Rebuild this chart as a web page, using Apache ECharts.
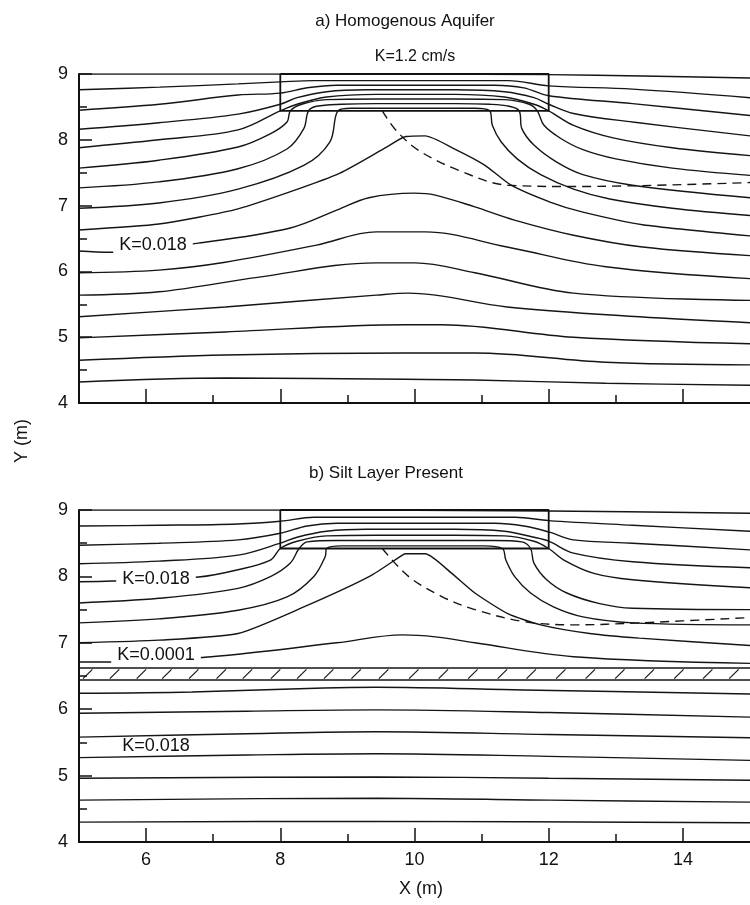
<!DOCTYPE html>
<html>
<head>
<meta charset="utf-8">
<script src="https://cdn.jsdelivr.net/npm/echarts@6/dist/echarts.min.js"></script>
<style>
  html, body { margin: 0; padding: 0; background: #fff; }
  #chart { width: 750px; height: 905px; }
</style>
</head>
<body>
<div id="chart"></div>
<script>
// ---- axis ticks ----
const xMajorTicks = [6, 8, 10, 12, 14];
const xMinorTicks = [7, 9, 11, 13];

// ---- trench (high-K box) outline, x / y in metres ----
const boxX = [8, 12, 12, 8, 8];
const boxTopY = [9, 9, 8.44, 8.44, 9];
const boxBotY = [9, 9, 8.42, 8.42, 9];

// ---- a) homogeneous aquifer: streamlines, [x, y] in metres ----
const homUpper = [
  [[5,9.0],[8,9.0],[12,8.99],[13.4,8.97],[15,8.94]],
  [[5,8.76],[6.2,8.80],[7.37,8.85],[8,8.88],[8.5,8.90],[11.4,8.90],[12,8.82],[13.25,8.77],[15,8.64]],
  [[5,8.45],[6.2,8.54],[7.37,8.68],[8,8.71],[8.4,8.79],[8.84,8.83],[11.19,8.83],[11.63,8.79],[12,8.67],[13.25,8.55],[15,8.37]],
  [[5,8.16],[6.19,8.26],[7.37,8.39],[8,8.54],[8.25,8.64],[8.69,8.73],[9.28,8.76],[10.6,8.76],[11.34,8.73],[11.78,8.64],[12,8.54],[12.37,8.40],[13.25,8.27],[15,8.06]],
  [[5,7.88],[6.19,8.0],[7.37,8.15],[8,8.44],[8.25,8.54],[8.69,8.65],[9.43,8.69],[10.6,8.69],[11.34,8.65],[11.78,8.54],[12,8.44],[12.37,8.22],[12.96,8.03],[13.84,7.88],[15,7.76]],
  [[5,7.57],[6.19,7.69],[7.37,7.89],[7.85,8.09],[8.10,8.27],[8.15,8.44],[8.32,8.54],[8.69,8.61],[9.43,8.62],[10.6,8.62],[11.34,8.61],[11.71,8.54],[11.83,8.44],[11.93,8.22],[12.18,8.02],[12.51,7.85],[13.0,7.71],[13.84,7.57],[15,7.46]],
  [[5,7.27],[6.19,7.36],[7.37,7.56],[8.10,7.86],[8.35,8.17],[8.42,8.44],[8.54,8.51],[8.91,8.54],[9.43,8.55],[10.6,8.55],[11.12,8.54],[11.41,8.51],[11.56,8.44],[11.60,8.17],[11.78,7.92],[12.12,7.66],[12.51,7.47],[13.25,7.31],[15,7.12]],
  [[5,6.96],[6.19,7.04],[7.37,7.25],[8.35,7.61],[8.74,7.97],[8.86,8.44],[9.06,8.48],[9.43,8.48],[10.46,8.48],[10.9,8.48],[11.12,8.44],[11.16,8.22],[11.29,7.97],[11.53,7.71],[11.88,7.47],[12.37,7.25],[12.91,7.10],[13.84,6.96],[15,6.85]]
];
const homDivide = [[5,6.63],[6.19,6.72],[7.37,6.95],[8.84,7.47],[9.57,7.88],[9.87,8.05],[10.16,8.06],[10.6,7.86],[11.04,7.62],[11.44,7.31],[12.03,7.05],[12.51,6.90],[13.40,6.71],[15,6.54]];
const homLower = [
  [[5,6.31],[5.46,6.29],[6.78,6.43],[8.15,6.66],[8.84,6.93],[9.32,7.12],[10.0,7.19],[10.31,7.16],[10.9,6.98],[11.49,6.78],[12.37,6.55],[13.4,6.37],[15,6.24]],
  [[5,5.98],[6.19,6.02],[7.18,6.14],[8.54,6.40],[9.43,6.60],[10.16,6.60],[11.38,6.37],[12.85,6.07],[15,5.89]],
  [[5,5.64],[6.19,5.69],[7.66,5.91],[9.43,6.13],[10.01,6.13],[10.9,5.98],[12.37,5.67],[15,5.56]],
  [[5,5.31],[7.18,5.46],[9.43,5.64],[9.91,5.67],[11.38,5.46],[13.35,5.31],[15,5.22]],
  [[5,4.99],[7.18,5.08],[9.87,5.19],[10.41,5.19],[12.37,5.0],[15,4.90]],
  [[5,4.65],[7.18,4.73],[9.87,4.76],[10.9,4.76],[12.85,4.62],[15,4.58]],
  [[5,4.32],[7.18,4.38],[9.87,4.36],[10.9,4.35],[12.85,4.30],[15,4.27]]
];
const homWaterTable = [[9.52,8.44],[9.72,8.15],[10.06,7.84],[10.65,7.54],[11.39,7.31],[12.37,7.29],[15,7.35]];

// ---- b) silt layer present: streamlines, [x, y] in metres ----
const siltUpper = [
  [[5,9.0],[8,9.0],[12,8.985],[15,8.95]],
  [[5,8.76],[6.19,8.77],[7.37,8.79],[8,8.83],[8.5,8.89],[11.5,8.89],[12,8.84],[13.25,8.77],[15,8.68]],
  [[5,8.47],[6.19,8.50],[7.37,8.55],[8,8.65],[8.40,8.76],[8.84,8.80],[11.19,8.80],[11.63,8.76],[12,8.67],[12.37,8.55],[13.25,8.50],[15,8.40]],
  [[5,8.19],[6.19,8.23],[7.37,8.32],[8,8.50],[8.25,8.59],[8.69,8.68],[9.28,8.71],[10.6,8.71],[11.34,8.68],[11.78,8.59],[12,8.53],[12.37,8.35],[13.25,8.22],[15,8.13]],
  [[5,7.92],[5.5,7.93],[6.78,7.99],[7.37,8.10],[7.86,8.25],[8,8.42],[8.25,8.53],[8.69,8.61],[9.43,8.62],[10.6,8.62],[11.34,8.61],[11.78,8.53],[12,8.42],[12.22,8.25],[12.66,8.05],[13.25,7.95],[15,7.83]],
  [[5,7.60],[6.19,7.67],[7.37,7.82],[7.86,8.0],[8.15,8.20],[8.28,8.42],[8.40,8.52],[8.84,8.54],[11.19,8.54],[11.60,8.52],[11.73,8.42],[11.78,8.20],[11.97,7.95],[12.27,7.75],[12.76,7.59],[13.25,7.52],[15,7.50]],
  [[5,7.30],[6.19,7.36],[7.37,7.49],[8.10,7.69],[8.50,8.0],[8.67,8.30],[8.69,8.42],[8.91,8.46],[11.04,8.46],[11.31,8.42],[11.36,8.25],[11.49,8.0],[11.73,7.75],[12.07,7.54],[12.51,7.39],[13.25,7.30],[15,7.27]]
];
const siltDivide = [[5,7.0],[6.19,7.04],[7.37,7.14],[8.35,7.54],[9.33,8.0],[9.82,8.32],[9.87,8.34],[10.16,8.34],[10.55,8.05],[10.9,7.75],[11.39,7.44],[11.88,7.27],[12.61,7.14],[13.35,7.07],[15,6.96]];
const siltAboveLayer = [[5,6.71],[5.46,6.71],[6.97,6.79],[8.84,7.0],[9.82,7.12],[10.31,7.09],[10.9,7.0],[12.37,6.79],[15,6.69]];
const siltBelow = [
  [[5,6.24],[6.68,6.26],[8.65,6.32],[9.43,6.33],[11.63,6.29],[15,6.23]],
  [[5,5.94],[7.5,5.97],[9.43,5.99],[12,5.95],[15,5.88]],
  [[5,5.58],[7.5,5.63],[9.43,5.66],[12,5.62],[15,5.57]],
  [[5,5.27],[7.5,5.31],[9.43,5.33],[12,5.29],[15,5.23]],
  [[5,4.96],[9.43,4.98],[12,4.96],[15,4.93]],
  [[5,4.63],[9.43,4.66],[12,4.63],[15,4.60]],
  [[5,4.30],[9.43,4.31],[15,4.29]]
];
const siltWaterTable = [[9.52,8.42],[9.91,8.0],[10.40,7.70],[10.90,7.50],[11.63,7.32],[12.37,7.27],[13.35,7.30],[15,7.38]];

// ---- silt layer (K = 0.0001) ----
const siltLayerTop = 6.62;
const siltLayerBottom = 6.44;
const siltHatchX = [5.13,5.53,5.93,6.31,6.71,7.12,7.51,7.93,8.32,8.72,9.13,9.54,9.99,10.43,10.87,11.31,11.74,12.18,12.62,13.06,13.50,13.94,14.37,14.76];

// ---- styling ----
const FONT = '"Liberation Sans", Arial, Helvetica, sans-serif';
const INK = '#151515';

function curve(pts, xi, yi, extra) {
  return Object.assign({
    type: 'line', xAxisIndex: xi, yAxisIndex: yi, data: pts,
    showSymbol: false, symbol: 'none', smooth: 0.35, silent: true,
    lineStyle: { color: INK, width: 1.4 }, z: 3
  }, extra || {});
}

function xAxes(gridIndex, withLabels) {
  const base = {
    type: 'value', gridIndex, min: 5, max: 15, position: 'bottom',
    splitLine: { show: false },
    axisLine: { show: true, onZero: false, lineStyle: { color: '#111', width: 2 } }
  };
  return [
    Object.assign({}, base, {
      axisTick: { show: true, inside: true, length: 8, customValues: xMinorTicks, lineStyle: { color: '#111', width: 1.5 } },
      axisLabel: { show: false }
    }),
    Object.assign({}, base, {
      axisTick: { show: true, inside: true, length: 14, customValues: xMajorTicks, lineStyle: { color: '#111', width: 1.5 } },
      axisLabel: withLabels
        ? { show: true, customValues: xMajorTicks, margin: 9, fontSize: 18, fontFamily: FONT, color: '#111' }
        : { show: false }
    })
  ];
}

function yAxis(gridIndex) {
  return {
    type: 'value', gridIndex, min: 4, max: 9, interval: 1, position: 'left',
    splitLine: { show: false },
    axisLine: { show: true, onZero: false, lineStyle: { color: '#111', width: 2 } },
    axisTick: { show: true, inside: true, length: 13, lineStyle: { color: '#111', width: 1.5 } },
    minorTick: { show: true, splitNumber: 2, length: 8, lineStyle: { color: '#111', width: 1.5 } },
    axisLabel: { fontSize: 18, fontFamily: FONT, color: '#111', margin: 11 }
  };
}

const series = [];
// panel a
homUpper.forEach(p => series.push(curve(p, 1, 0)));
series.push(curve(homDivide, 1, 0, { smooth: 0.2 }));
homLower.forEach(p => series.push(curve(p, 1, 0)));
series.push(curve(homWaterTable, 1, 0, { lineStyle: { color: INK, width: 1.4, type: [9, 6] } }));
series.push(curve(boxX.map((x, i) => [x, boxTopY[i]]), 1, 0, { smooth: false, lineStyle: { color: '#111', width: 1.8 } }));
// panel b
siltUpper.forEach(p => series.push(curve(p, 3, 1)));
series.push(curve(siltDivide, 3, 1, { smooth: 0.2 }));
series.push(curve(siltAboveLayer, 3, 1));
siltBelow.forEach(p => series.push(curve(p, 3, 1)));
series.push(curve(siltWaterTable, 3, 1, { lineStyle: { color: INK, width: 1.4, type: [9, 6] } }));
series.push(curve(boxX.map((x, i) => [x, boxBotY[i]]), 3, 1, { smooth: false, lineStyle: { color: '#111', width: 1.8 } }));
series.push(curve([[5, siltLayerTop], [15, siltLayerTop]], 3, 1, { smooth: false }));
series.push(curve([[5, siltLayerBottom], [15, siltLayerBottom]], 3, 1, { smooth: false }));
series.push({
  type: 'custom', xAxisIndex: 3, yAxisIndex: 1, silent: true, z: 3,
  data: siltHatchX.map(x => [x, (siltLayerTop + siltLayerBottom) / 2]),
  encode: { x: 0, y: 1 },
  renderItem: function (params, api) {
    const x = api.value(0);
    const p1 = api.coord([x - 0.07, siltLayerBottom + 0.02]);
    const p2 = api.coord([x + 0.07, siltLayerTop - 0.02]);
    return { type: 'line', shape: { x1: p1[0], y1: p1[1], x2: p2[0], y2: p2[1] },
             style: { stroke: INK, lineWidth: 1.2 } };
  }
});

function label(text, x, y, size, extra) {
  return Object.assign({
    type: 'text', x, y, z: 100,
    style: { text, font: size + 'px ' + FONT, fill: '#111', textAlign: 'center', verticalAlign: 'middle', textVerticalAlign: 'middle' }
  }, extra || {});
}
function kLabel(text, x, y) {
  return {
    type: 'text', x, y, z: 100,
    style: { text, font: '18px ' + FONT, fill: '#111', textAlign: 'center', verticalAlign: 'middle', textVerticalAlign: 'middle',
             backgroundColor: '#fff', padding: [1, 6, 1, 6] }
  };
}

const chart = echarts.init(document.getElementById('chart'), null, { renderer: 'canvas' });
chart.setOption({
  animation: false,
  backgroundColor: '#fff',
  grid: [
    { left: 79, top: 74, width: 680, height: 329 },
    { left: 79, top: 510, width: 680, height: 332 }
  ],
  xAxis: xAxes(0, false).concat(xAxes(1, true)),
  yAxis: [yAxis(0), yAxis(1)],
  series,
  graphic: [
    label('a) Homogenous Aquifer', 405, 21, 17),
    label('K=1.2 cm/s', 415, 57, 16),
    label('b) Silt Layer Present', 386, 473, 17),
    label('X (m)', 421, 889, 18),
    label('Y (m)', 22, 441, 18, { rotation: Math.PI / 2 }),
    kLabel('K=0.018', 153, 245),
    kLabel('K=0.018', 156, 579),
    kLabel('K=0.0001', 156, 655),
    label('K=0.018', 156, 746, 18)
  ]
});
</script>
</body>
</html>
